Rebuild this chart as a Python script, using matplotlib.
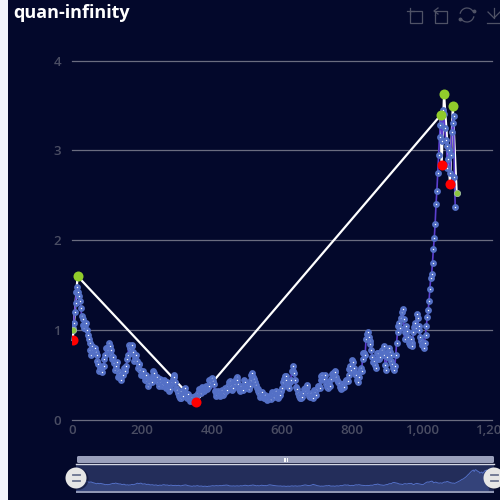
import matplotlib
matplotlib.use('Agg')
import matplotlib.pyplot as plt
from matplotlib.patches import Rectangle, Circle, Arc, FancyBboxPatch

plt.rcParams['font.family'] = ['Open Sans', 'DejaVu Sans']

TITLE = 'quan-infinity'
X_TICKS = [0, 200, 400, 600, 800, 1000, 1200]
X_TICK_LABELS = ['0', '200', '400', '600', '800', '1,000', '1,200']
Y_TICKS = [0, 1, 2, 3, 4]

# series read every 5 units on x (0, 5, 10, ...)
STEP = 5
VALUES = [
    1.00, 1.08, 1.30, 1.48, 1.38, 1.25, 1.12, 1.02, 1.08, 0.95,
    0.86, 0.72, 0.78, 0.80, 0.72, 0.62, 0.58, 0.53, 0.60, 0.72,
    0.80, 0.86, 0.78, 0.68, 0.63, 0.60, 0.55, 0.50, 0.45, 0.50,
    0.58, 0.60, 0.72, 0.80, 0.82, 0.76, 0.70, 0.66, 0.62, 0.56,
    0.52, 0.49, 0.47, 0.43, 0.41, 0.44, 0.50, 0.52, 0.46, 0.42,
    0.44, 0.42, 0.40, 0.42, 0.38, 0.36, 0.34, 0.42, 0.50, 0.42,
    0.33, 0.27, 0.25, 0.28, 0.33, 0.30, 0.27, 0.24, 0.23, 0.22,
    0.20, 0.24, 0.30, 0.32, 0.33, 0.34, 0.35, 0.35, 0.38, 0.42,
    0.47, 0.40, 0.30, 0.28, 0.30, 0.29, 0.30, 0.30, 0.32, 0.38,
    0.43, 0.38, 0.36, 0.40, 0.48, 0.40, 0.32, 0.33, 0.38, 0.42,
    0.36, 0.34, 0.44, 0.52, 0.46, 0.39, 0.34, 0.30, 0.28, 0.27,
    0.25, 0.24, 0.23, 0.25, 0.27, 0.30, 0.29, 0.28, 0.27, 0.28,
    0.36, 0.46, 0.49, 0.40, 0.36, 0.45, 0.60, 0.52, 0.37, 0.30,
    0.24, 0.25, 0.30, 0.36, 0.37, 0.30, 0.26, 0.27, 0.29, 0.31,
    0.34, 0.38, 0.44, 0.50, 0.46, 0.40, 0.36, 0.40, 0.46, 0.52,
    0.54, 0.48, 0.42, 0.37, 0.36, 0.40, 0.42, 0.45, 0.50, 0.60,
    0.67, 0.58, 0.50, 0.45, 0.48, 0.58, 0.68, 0.75, 0.90, 0.98,
    0.88, 0.78, 0.65, 0.61, 0.68, 0.74, 0.70, 0.78, 0.82, 0.61,
    0.70, 0.80, 0.72, 0.62, 0.56, 0.72, 0.98, 1.08, 1.14, 1.24,
    0.90, 1.05, 0.92, 0.84, 0.86, 0.98, 1.08, 1.18, 1.05, 0.92,
    0.84, 0.80, 0.95, 1.15, 1.32, 1.58, 1.75, 2.02, 2.40, 2.75,
    3.15, 3.39, 3.45, 3.25, 3.05, 2.90, 2.75, 3.20, 3.38, 2.37,
]
# readings between those (2.5, 7.5, ...), the band is jittery
MID_VALUES = [
    1.02, 1.20, 1.42, 1.42, 1.32, 1.16, 1.06, 1.06, 1.00, 0.90,
    0.78, 0.82, 0.74, 0.76, 0.66, 0.55, 0.59, 0.60, 0.68, 0.80,
    0.78, 0.82, 0.72, 0.70, 0.56, 0.64, 0.48, 0.52, 0.50, 0.58,
    0.54, 0.68, 0.84, 0.74, 0.84, 0.66, 0.72, 0.58, 0.62, 0.50,
    0.54, 0.44, 0.50, 0.38, 0.46, 0.42, 0.54, 0.46, 0.48, 0.38,
    0.46, 0.38, 0.44, 0.36, 0.42, 0.32, 0.40, 0.46, 0.48, 0.36,
    0.30, 0.24, 0.32, 0.27, 0.36, 0.25, 0.29, 0.21, 0.26, 0.20,
    0.27, 0.28, 0.35, 0.30, 0.37, 0.32, 0.38, 0.37, 0.44, 0.46,
    0.43, 0.32, 0.27, 0.32, 0.27, 0.33, 0.28, 0.36, 0.33, 0.42,
    0.40, 0.33, 0.42, 0.46, 0.44, 0.34, 0.38, 0.33, 0.44, 0.38,
    0.39, 0.38, 0.50, 0.48, 0.42, 0.36, 0.32, 0.26, 0.31, 0.24,
    0.28, 0.22, 0.27, 0.23, 0.31, 0.26, 0.32, 0.25, 0.31, 0.32,
    0.42, 0.49, 0.44, 0.38, 0.42, 0.54, 0.55, 0.44, 0.34, 0.27,
    0.28, 0.26, 0.35, 0.32, 0.39, 0.27, 0.30, 0.24, 0.33, 0.28,
    0.38, 0.36, 0.49, 0.46, 0.50, 0.37, 0.42, 0.38, 0.51, 0.48,
    0.53, 0.44, 0.41, 0.35, 0.40, 0.37, 0.45, 0.43, 0.57, 0.56,
    0.64, 0.52, 0.50, 0.42, 0.55, 0.55, 0.74, 0.72, 0.96, 0.92,
    0.85, 0.70, 0.66, 0.58, 0.74, 0.68, 0.76, 0.74, 0.72, 0.56,
    0.76, 0.76, 0.66, 0.58, 0.60, 0.86, 1.05, 1.02, 1.20, 1.12,
    0.98, 0.99, 0.86, 0.90, 0.82, 1.04, 1.02, 1.14, 1.00, 0.88,
    0.86, 0.86, 1.05, 1.22, 1.46, 1.62, 1.90, 2.18, 2.55, 2.95,
    3.28, 3.10, 3.40, 3.12, 2.80, 3.00, 2.95, 3.30, 2.70,
]

# white zigzag through the turning points
ZIGZAG_X = [2, 16, 353, 1053, 1056, 1063, 1080, 1088, 1099]
ZIGZAG_Y = [0.89, 1.60, 0.20, 3.39, 2.84, 3.63, 2.63, 3.49, 2.53]
GREEN_X = [16, 1053, 1063, 1088]
GREEN_Y = [1.60, 3.39, 3.63, 3.49]
RED_X = [2, 353, 1056, 1080]
RED_Y = [0.89, 0.20, 2.84, 2.63]
SMALL_GREEN_X = [2, 1099]
SMALL_GREEN_Y = [1.00, 2.53]

BG = '#03082B'
GRID = '#6A6C80'
TICK = '#4A4D63'
ICON = '#4F5266'
BLUE = '#5470C6'

# merge both reading lists in x order
x_all = []
y_all = []
for i, v in enumerate(VALUES):
    x_all.append(i * STEP)
    y_all.append(v)
    if i < len(MID_VALUES):
        x_all.append(i * STEP + STEP / 2)
        y_all.append(MID_VALUES[i])

fig = plt.figure(figsize=(5, 5), dpi=100, facecolor=BG)


def px_axes(x0, y0, x1, y1):
    # axes placed by image pixels (y from the top)
    return fig.add_axes([x0 / 500, 1 - y1 / 500, (x1 - x0) / 500, (y1 - y0) / 500])


# ---- main chart ----
ax = px_axes(72, 60.5, 492, 420)
ax.set_facecolor(BG)
ax.set_xlim(0, 1200)
ax.set_ylim(0, 4)
ax.set_xticks(X_TICKS)
ax.set_xticklabels(X_TICK_LABELS)
ax.set_yticks(Y_TICKS)
ax.tick_params(length=0, labelsize=9.5, labelcolor=TICK)
ax.tick_params(axis='x', pad=3)
ax.tick_params(axis='y', pad=8)
for label in ax.get_xticklabels() + ax.get_yticklabels():
    label.set_fontweight('semibold')
    label.set_clip_on(False)
for side in ax.spines:
    ax.spines[side].set_visible(False)
ax.grid(True, axis='y', color=GRID, linewidth=0.9)
for line in ax.get_ygridlines():
    line.set_clip_on(False)
ax.set_axisbelow(True)

ax.plot(ZIGZAG_X, ZIGZAG_Y, color='white', linewidth=1.6, zorder=3, clip_on=False)
ax.plot(x_all, y_all, color='#5B3FD0', linewidth=1.2, zorder=4,
        marker='o', markersize=3.0, markerfacecolor='white',
        markeredgecolor=BLUE, markeredgewidth=1.9)
ax.scatter(SMALL_GREEN_X, SMALL_GREEN_Y, s=20, color='#8CC63F', edgecolor='#9FBF9F',
           linewidth=0.6, zorder=5)
ax.scatter(GREEN_X, GREEN_Y, s=52, color='#91CC2B', linewidth=0, zorder=6)
ax.scatter(RED_X, RED_Y, s=52, color='#FF0000', linewidth=0, zorder=6)

# ---- data zoom preview ----
prev = px_axes(76, 464, 494, 490.5)
prev.set_facecolor('#232D5A')
prev.set_xlim(0, 1110)
prev.set_ylim(-0.58, 4.56)
prev.set_xticks([])
prev.set_yticks([])
for side in prev.spines:
    prev.spines[side].set_visible(False)
prev.fill_between(x_all, y_all, -0.58, color='#34437A', linewidth=0)
prev.plot(x_all, y_all, color=BLUE, linewidth=0.7)

# ---- page chrome, in pixel coordinates ----
over = fig.add_axes([0, 0, 1, 1], facecolor='none')
over.set_xlim(0, 500)
over.set_ylim(500, 0)
over.axis('off')
over.add_patch(Rectangle((0, 0), 8, 500, color='#F2F4FA', linewidth=0))
over.text(13, 13, TITLE, color='white', fontsize=13, fontweight='bold', va='center', ha='left')

# slider frame
over.add_patch(FancyBboxPatch((77, 456), 417, 7, boxstyle='round,pad=0,rounding_size=1.5',
                              color='#9AA0BC', linewidth=0))
over.plot([76, 494], [463.8, 463.8], color='#D5D8E5', linewidth=1)
over.add_patch(Rectangle((76, 491), 418, 1.8, color='#8F96B5', linewidth=0))
for x in [283.5, 285, 286.5]:
    over.plot([x, x], [457.5, 460.5], color='white', linewidth=0.7)
for cx in [76, 494]:
    over.add_patch(Circle((cx + 1.5, 479), 11, color='#0A0F30', alpha=0.6, linewidth=0))
    over.add_patch(Circle((cx, 478), 10.5, color='#E6E6E6', linewidth=0))
    over.plot([cx - 3.5, cx + 3.5], [474.5, 474.5], color='#6B7390', linewidth=1.3)
    over.plot([cx - 3.5, cx + 3.5], [481, 481], color='#6B7390', linewidth=1.3)

# toolbox icons
lw = 0.9
over.add_patch(Rectangle((410, 11), 12, 12, fill=False, edgecolor=ICON, linewidth=lw))
over.plot([407, 414], [11, 11], color=ICON, linewidth=lw)
over.plot([410, 410], [8, 14], color=ICON, linewidth=lw)
over.plot([435, 435, 447, 447, 435, 435], [15, 23, 23, 11, 11, 15], color=ICON, linewidth=lw)
over.plot([438, 434, 438], [8, 11, 14], color=ICON, linewidth=lw)
over.add_patch(Arc((467, 15), 14, 14, theta1=190, theta2=330, color=ICON, linewidth=lw))
over.add_patch(Arc((467, 15), 14, 14, theta1=10, theta2=150, color=ICON, linewidth=lw))
over.plot([460], [19], marker='o', markersize=1.8, color=ICON)
over.plot([474], [11], marker='o', markersize=1.8, color=ICON)
over.plot([494, 494], [8, 18], color=ICON, linewidth=lw)
over.plot([488, 494, 500], [12, 18, 12], color=ICON, linewidth=lw)
over.plot([487, 500], [23, 23], color=ICON, linewidth=lw)

fig.savefig('out.png', dpi=100, facecolor=BG)
